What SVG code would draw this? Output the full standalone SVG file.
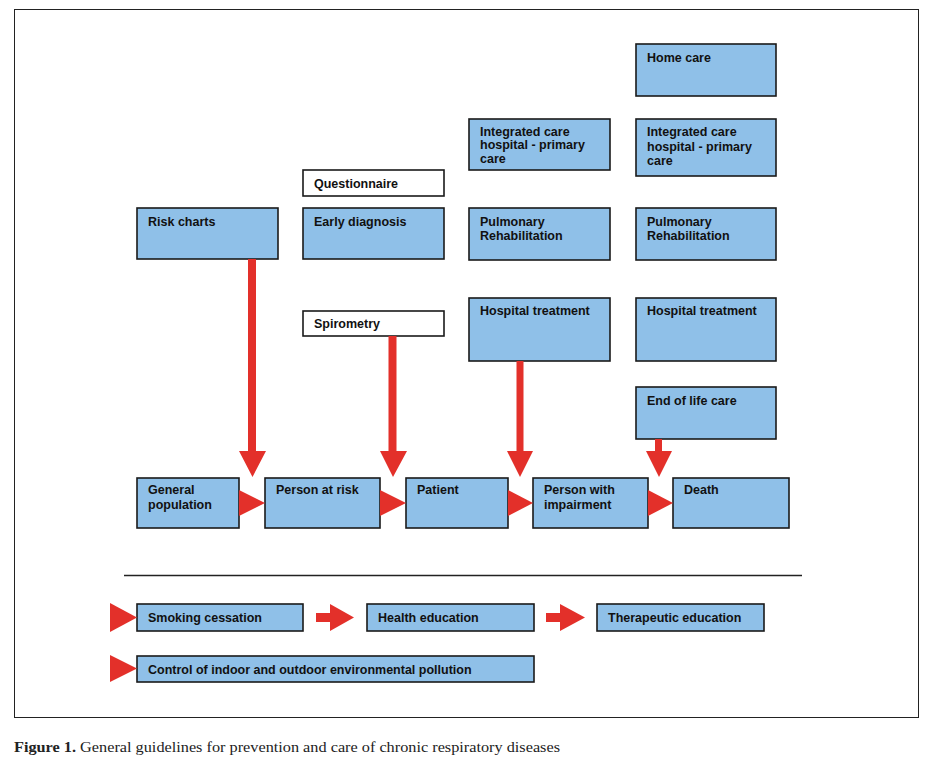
<svg xmlns="http://www.w3.org/2000/svg" width="927" height="768" viewBox="0 0 927 768">
<defs>
<style>
.b{fill:#8fc0e8;stroke:#1a1a1a;stroke-width:1.6}
.w{fill:#ffffff;stroke:#1a1a1a;stroke-width:1.6}
.t{font-family:"Liberation Sans",Arial,sans-serif;font-weight:bold;font-size:12.5px;fill:#111}
.r{fill:#e3302a;stroke:none}
.cap{font-family:"Liberation Serif","Times New Roman",serif;font-size:15px;fill:#222}
</style>
</defs>
<rect width="927" height="768" fill="#ffffff"/>
<rect x="14.5" y="9.5" width="904" height="708" fill="none" stroke="#222" stroke-width="1"/>

<g id="n-home"><rect class="b" x="636" y="44" width="140" height="52"/><text class="t" x="647" y="62">Home care</text></g>
<g id="n-int3"><rect class="b" x="469" y="119" width="141" height="51"/><text class="t" x="480" y="135.5">Integrated care</text><text class="t" x="480" y="148.5">hospital - primary</text><text class="t" x="480" y="162.5">care</text></g>
<g id="n-int4"><rect class="b" x="636" y="119" width="140" height="57"/><text class="t" x="647" y="136">Integrated care</text><text class="t" x="647" y="151">hospital - primary</text><text class="t" x="647" y="165">care</text></g>
<g id="n-quest"><rect class="w" x="303" y="170" width="141" height="26"/><text class="t" x="314" y="188">Questionnaire</text></g>
<g id="n-risk"><rect class="b" x="137" y="208" width="141" height="51"/><text class="t" x="148" y="226">Risk charts</text></g>
<g id="n-early"><rect class="b" x="303" y="208" width="141" height="51"/><text class="t" x="314" y="226">Early diagnosis</text></g>
<g id="n-pr3"><rect class="b" x="469" y="208" width="141" height="52"/><text class="t" x="480" y="226">Pulmonary</text><text class="t" x="480" y="240">Rehabilitation</text></g>
<g id="n-pr4"><rect class="b" x="636" y="208" width="140" height="52"/><text class="t" x="647" y="226">Pulmonary</text><text class="t" x="647" y="240">Rehabilitation</text></g>
<g id="n-spiro"><rect class="w" x="303" y="311" width="141" height="25"/><text class="t" x="314" y="328">Spirometry</text></g>
<g id="n-hosp3"><rect class="b" x="469" y="298" width="141" height="63"/><text class="t" x="480" y="315">Hospital treatment</text></g>
<g id="n-hosp4"><rect class="b" x="636" y="298" width="140" height="63"/><text class="t" x="647" y="315">Hospital treatment</text></g>
<g id="n-eol"><rect class="b" x="636" y="387" width="140" height="52"/><text class="t" x="647" y="405">End of life care</text></g>

<g id="n-gen"><rect class="b" x="137" y="478" width="102" height="50"/><text class="t" x="148" y="494">General</text><text class="t" x="148" y="509">population</text></g>
<g id="n-atrisk"><rect class="b" x="265" y="478" width="115" height="50"/><text class="t" x="276" y="494">Person at risk</text></g>
<g id="n-patient"><rect class="b" x="406" y="478" width="102" height="50"/><text class="t" x="417" y="494">Patient</text></g>
<g id="n-impair"><rect class="b" x="533" y="478" width="115" height="50"/><text class="t" x="544" y="494">Person with</text><text class="t" x="544" y="509">impairment</text></g>
<g id="n-death"><rect class="b" x="673" y="478" width="116" height="50"/><text class="t" x="684" y="494">Death</text></g>

<line x1="124" y1="575.5" x2="802" y2="575.5" stroke="#222" stroke-width="1.5"/>

<g id="n-smoke"><rect class="b" x="137" y="604" width="166" height="27"/><text class="t" x="148" y="622">Smoking cessation</text></g>
<g id="n-health"><rect class="b" x="367" y="604" width="167" height="27"/><text class="t" x="378" y="622">Health education</text></g>
<g id="n-thera"><rect class="b" x="597" y="604" width="167" height="27"/><text class="t" x="608" y="622">Therapeutic education</text></g>
<g id="n-control"><rect class="b" x="137" y="656" width="397" height="26"/><text class="t" x="148" y="674">Control of indoor and outdoor environmental pollution</text></g>

<g id="connectors">
<polygon class="r" points="248,259 256,259 256,451 266,451 252.5,477 239,451 248,451"/>
<polygon class="r" points="388.5,336 396.5,336 396.5,451 407,451 393,477 380,451 388.5,451"/>
<polygon class="r" points="516.5,361 523.5,361 523.5,451 533,451 520,477 507,451 516.5,451"/>
<polygon class="r" points="655,439 662,439 662,451 672,451 659,477 646,451 655,451"/>
<polygon class="r" points="239,490 265,503 239,516"/>
<polygon class="r" points="380,490 406,503 380,516"/>
<polygon class="r" points="508,490 533,503 508,516"/>
<polygon class="r" points="648,490 673,503 648,516"/>
<polygon class="r" points="110,603 137,617.5 110,632"/>
<polygon class="r" points="110,655 137,668.5 110,682"/>
<polygon class="r" points="316,613 330,613 330,604 354,617.5 330,631 330,622 316,622"/>
<polygon class="r" points="546,613 560,613 560,604 585,617.5 560,631 560,622 546,622"/>
</g>

<text class="cap" x="14" y="752" textLength="546" lengthAdjust="spacingAndGlyphs"><tspan font-weight="bold">Figure 1.</tspan> General guidelines for prevention and care of chronic respiratory diseases</text>
</svg>
